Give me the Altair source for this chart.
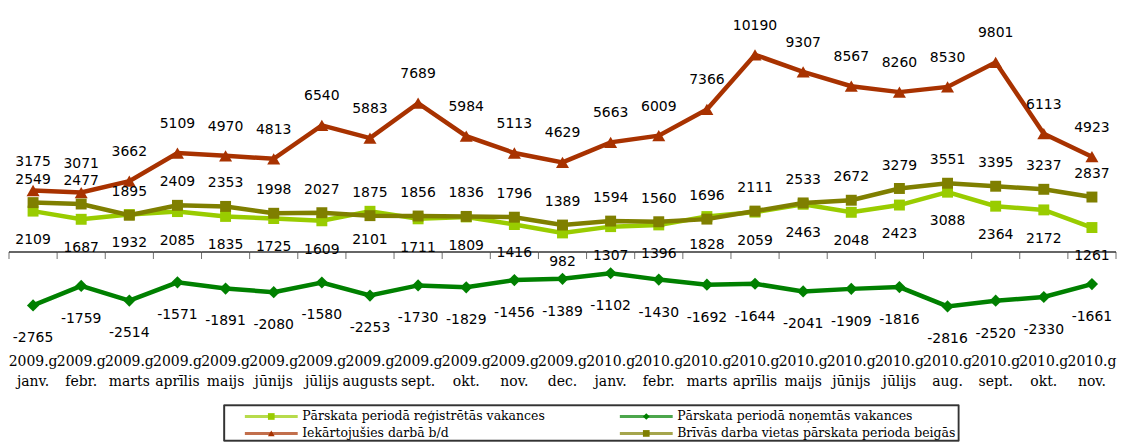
import altair as alt
import pandas as pd

# ---- data ----
years = ["2009.g"] * 12 + ["2010.g"] * 11
months = ["janv.", "febr.", "marts", "aprīlis", "maijs", "jūnijs", "jūlijs", "augusts",
          "sept.", "okt.", "nov.", "dec.", "janv.", "febr.", "marts", "aprīlis", "maijs",
          "jūnijs", "jūlijs", "aug.", "sept.", "okt.", "nov."]
registered = [2109, 1687, 1932, 2085, 1835, 1725, 1609, 2101, 1711, 1809, 1416, 982,
              1307, 1396, 1828, 2059, 2463, 2048, 2423, 3088, 2364, 2172, 1261]
removed = [-2765, -1759, -2514, -1571, -1891, -2080, -1580, -2253, -1730, -1829, -1456, -1389,
           -1102, -1430, -1692, -1644, -2041, -1909, -1816, -2816, -2520, -2330, -1661]
employed = [3175, 3071, 3662, 5109, 4970, 4813, 6540, 5883, 7689, 5984, 5113, 4629,
            5663, 6009, 7366, 10190, 9307, 8567, 8260, 8530, 9801, 6113, 4923]
free_places = [2549, 2477, 1895, 2409, 2353, 1998, 2027, 1875, 1856, 1836, 1796, 1389,
               1594, 1560, 1696, 2111, 2533, 2672, 3279, 3551, 3395, 3237, 2837]
series_names = ["Pārskata periodā reģistrētās vakances",
                "Pārskata periodā noņemtās vakances",
                "Iekārtojušies darbā b/d",
                "Brīvās darba vietas pārskata perioda beigās"]
series_values = [registered, removed, employed, free_places]
colors = ["#99CC00", "#008000", "#A83200", "#7F7F00"]
shapes = ["square", "diamond", "triangle-up", "square"]
marker_sizes = [120, 150, 170, 120]
label_dy = [29, 33, -29, -23]

n = len(months)
rows = []
for s, vals in enumerate(series_values):
    for k, v in enumerate(vals):
        rows.append({"idx": k, "value": v, "s": s, "lbl": str(v)})
df = pd.DataFrame(rows)
cat_df = pd.DataFrame({"idx": list(range(n)), "year": years, "month": months})

x_scale = alt.Scale(domain=[-0.5, n - 0.5], nice=False, zero=False)
y_scale = alt.Scale(domain=[-4948, 12577], nice=False, zero=False)
x_enc = alt.X("idx:Q", scale=x_scale, axis=None)
y_enc = alt.Y("value:Q", scale=y_scale, axis=None)

# zero line with ticks at category boundaries
edges = alt.Chart(cat_df).transform_calculate(
    lo="datum.idx - 0.5", hi="datum.idx + 0.5", zero="0")
layers = [
    edges.mark_rule(color="#333333", strokeWidth=1.5).encode(
        x=alt.X("lo:Q", scale=x_scale, axis=None), x2="hi:Q",
        y=alt.Y("zero:Q", scale=y_scale, axis=None)),
    edges.mark_tick(orient="vertical", size=7, thickness=1, color="#333333",
                    yOffset=3.5).encode(
        x=alt.X("lo:Q", scale=x_scale, axis=None),
        y=alt.Y("zero:Q", scale=y_scale, axis=None)),
    edges.transform_filter(f"datum.idx == {n - 1}").mark_tick(
        orient="vertical", size=7, thickness=1, color="#333333", yOffset=3.5).encode(
        x=alt.X("hi:Q", scale=x_scale, axis=None),
        y=alt.Y("zero:Q", scale=y_scale, axis=None)),
]

for s in range(len(series_names)):
    base = alt.Chart(df).transform_filter(f"datum.s == {s}").encode(x=x_enc, y=y_enc)
    layers.append(base.mark_line(color=colors[s], strokeWidth=4.5))
    layers.append(base.mark_point(shape=shapes[s], size=marker_sizes[s], filled=True,
                                  color=colors[s], opacity=1))

for s in range(len(series_names)):
    layers.append(alt.Chart(df).transform_filter(f"datum.s == {s}").mark_text(
        font="DejaVu Sans", fontSize=14, color="black", baseline="middle",
        dy=label_dy[s]).encode(x=x_enc, y=y_enc, text="lbl:N"))

main = alt.layer(*layers).properties(width=1110, height=340)

# ---- category labels (two lines) ----
labels = alt.layer(
    alt.Chart(cat_df).mark_text(font="DejaVu Serif", fontSize=14, color="black",
                                baseline="middle", dy=-6).encode(
        x=x_enc, text="year:N"),
    alt.Chart(cat_df).mark_text(font="DejaVu Serif", fontSize=14, color="black",
                                baseline="middle", dy=14).encode(
        x=x_enc, text="month:N"),
).properties(width=1110, height=40)

# ---- legend ----
leg_df = pd.DataFrame({
    "name": series_names,
    "row": [i // 2 for i in range(len(series_names))],
    "col": [i % 2 for i in range(len(series_names))],
})
lx = alt.X("col:O", scale=alt.Scale(type="point", domain=[0, 1], range=[263, 639], padding=0),
           axis=None)
ly = alt.Y("row:O", scale=alt.Scale(type="point", domain=[0, 1], range=[28, 45], padding=0),
           axis=None)
col_scale = alt.Scale(domain=series_names, range=colors)
shape_scale = alt.Scale(domain=series_names, range=shapes)
leg_base = alt.Chart(leg_df).encode(x=lx, y=ly)
leg_box = alt.Chart(leg_df).mark_rect(fill="white", stroke="#333333", strokeWidth=1.5).encode(
    x=alt.value(216), x2=alt.value(952), y=alt.value(17), y2=alt.value(52))
leg_line = leg_base.mark_tick(orient="horizontal", size=53, thickness=3).encode(
    color=alt.Color("name:N", scale=col_scale, legend=None))
leg_pt = leg_base.mark_point(filled=True, size=45, opacity=1).encode(
    color=alt.Color("name:N", scale=col_scale, legend=None),
    shape=alt.Shape("name:N", scale=shape_scale, legend=None))
leg_txt = leg_base.mark_text(align="left", baseline="middle", dx=31, font="DejaVu Serif",
                             fontSize=12.5, color="black").encode(text="name:N")
legend = alt.layer(leg_box, leg_line, leg_pt, leg_txt).properties(width=1110, height=50)

chart = alt.vconcat(main, labels, legend, spacing=0).properties(padding=0).configure_view(
    strokeWidth=0)

chart.save("out.html", embed_options={"renderer": "svg", "actions": False})
